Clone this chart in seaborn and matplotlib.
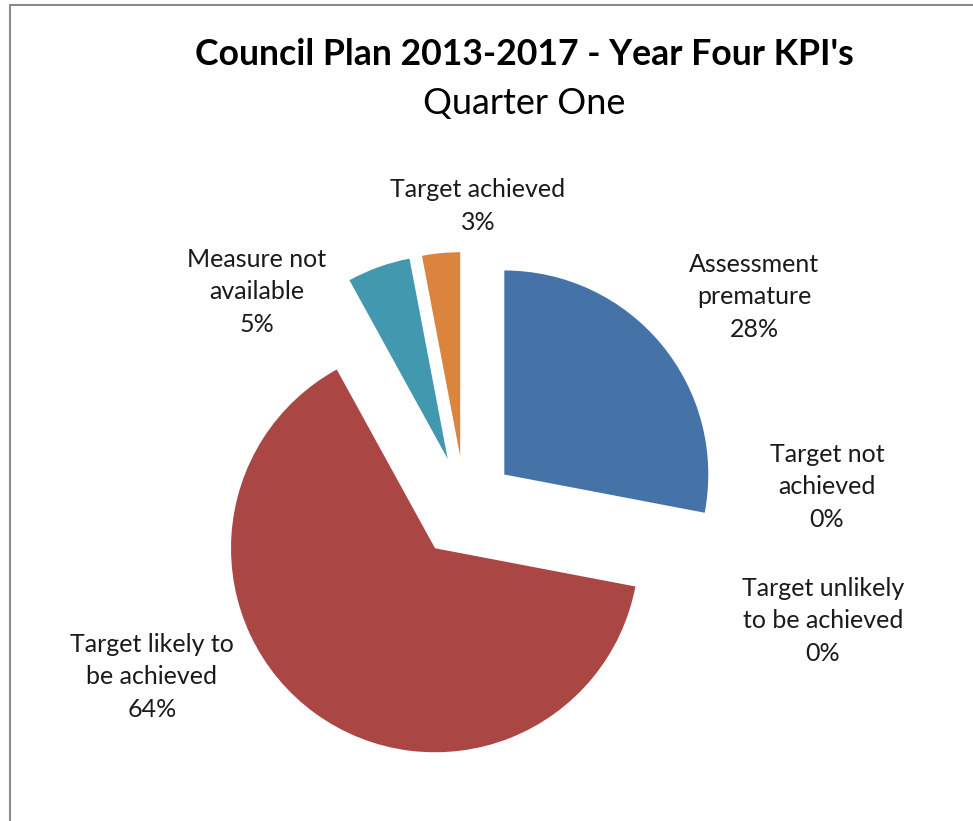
import matplotlib
matplotlib.use("Agg")
import matplotlib.pyplot as plt
from matplotlib.lines import Line2D
import seaborn as sns

# KPI status breakdown, listed clockwise from 12 o'clock
categories = [
    "Assessment\npremature",
    "Target not\nachieved",
    "Target unlikely\nto be achieved",
    "Target likely to\nbe achieved",
    "Measure not\navailable",
    "Target achieved",
]
shares = [28, 0, 0, 64, 5, 3]
slice_colors = ["#4572A7", "#89A54E", "#71588F", "#AA4643", "#4198AF", "#DB843D"]

title = "Council Plan 2013-2017 - Year Four KPI's"
subtitle = "Quarter One"

sns.set_theme(style="white")
plt.rcParams["font.family"] = ["Lato", "DejaVu Sans"]
palette = sns.color_palette(slice_colors)

W, H, DPI = 973, 821, 100
fig = plt.figure(figsize=(W / DPI, H / DPI), dpi=DPI, facecolor="white")
ax = fig.add_axes([0, 0, 1, 1])

R = 204.0          # pie radius in pixels
cx, cy = 465, 507  # pie centre in pixels (from top-left)

ax.pie(
    shares,
    colors=palette,
    startangle=90,
    counterclock=False,
    explode=[0.25] * len(shares),
    radius=1.0,
    wedgeprops=dict(linewidth=0),
)
ax.set_xlim(-cx / R, (W - cx) / R)
ax.set_ylim(-(H - cy) / R, cy / R)
ax.set_aspect("equal", adjustable="datalim")
ax.axis("off")


def to_data(px, py):
    return (px - cx) / R, (cy - py) / R


# data labels
label_pos = [(754, 297), (827, 487), (823, 621), (152, 677), (257, 292), (478, 206)]
for cat, val, (px, py) in zip(categories, shares, label_pos):
    x, y = to_data(px, py)
    ax.text(x, y, f"{cat}\n{val}%", ha="center", va="center",
            fontsize=18, color="#1a1a1a", linespacing=1.5)

# titles
tx, ty = to_data(524, 55)
ax.text(tx, ty, title, ha="center", va="center", fontsize=25.7,
        fontweight="bold", color="black")
sx, sy = to_data(524, 104)
ax.text(sx, sy, subtitle, ha="center", va="center", fontsize=26,
        color="black")

# chart area frame
fig.add_artist(Line2D([10 / W, 10 / W], [0, 1 - 5 / H], transform=fig.transFigure,
                      color="#8c8c8c", linewidth=1.5))
fig.add_artist(Line2D([10 / W, 1], [1 - 5 / H, 1 - 5 / H], transform=fig.transFigure,
                      color="#8c8c8c", linewidth=1.5))

fig.savefig("out.png", dpi=DPI, facecolor="white")
